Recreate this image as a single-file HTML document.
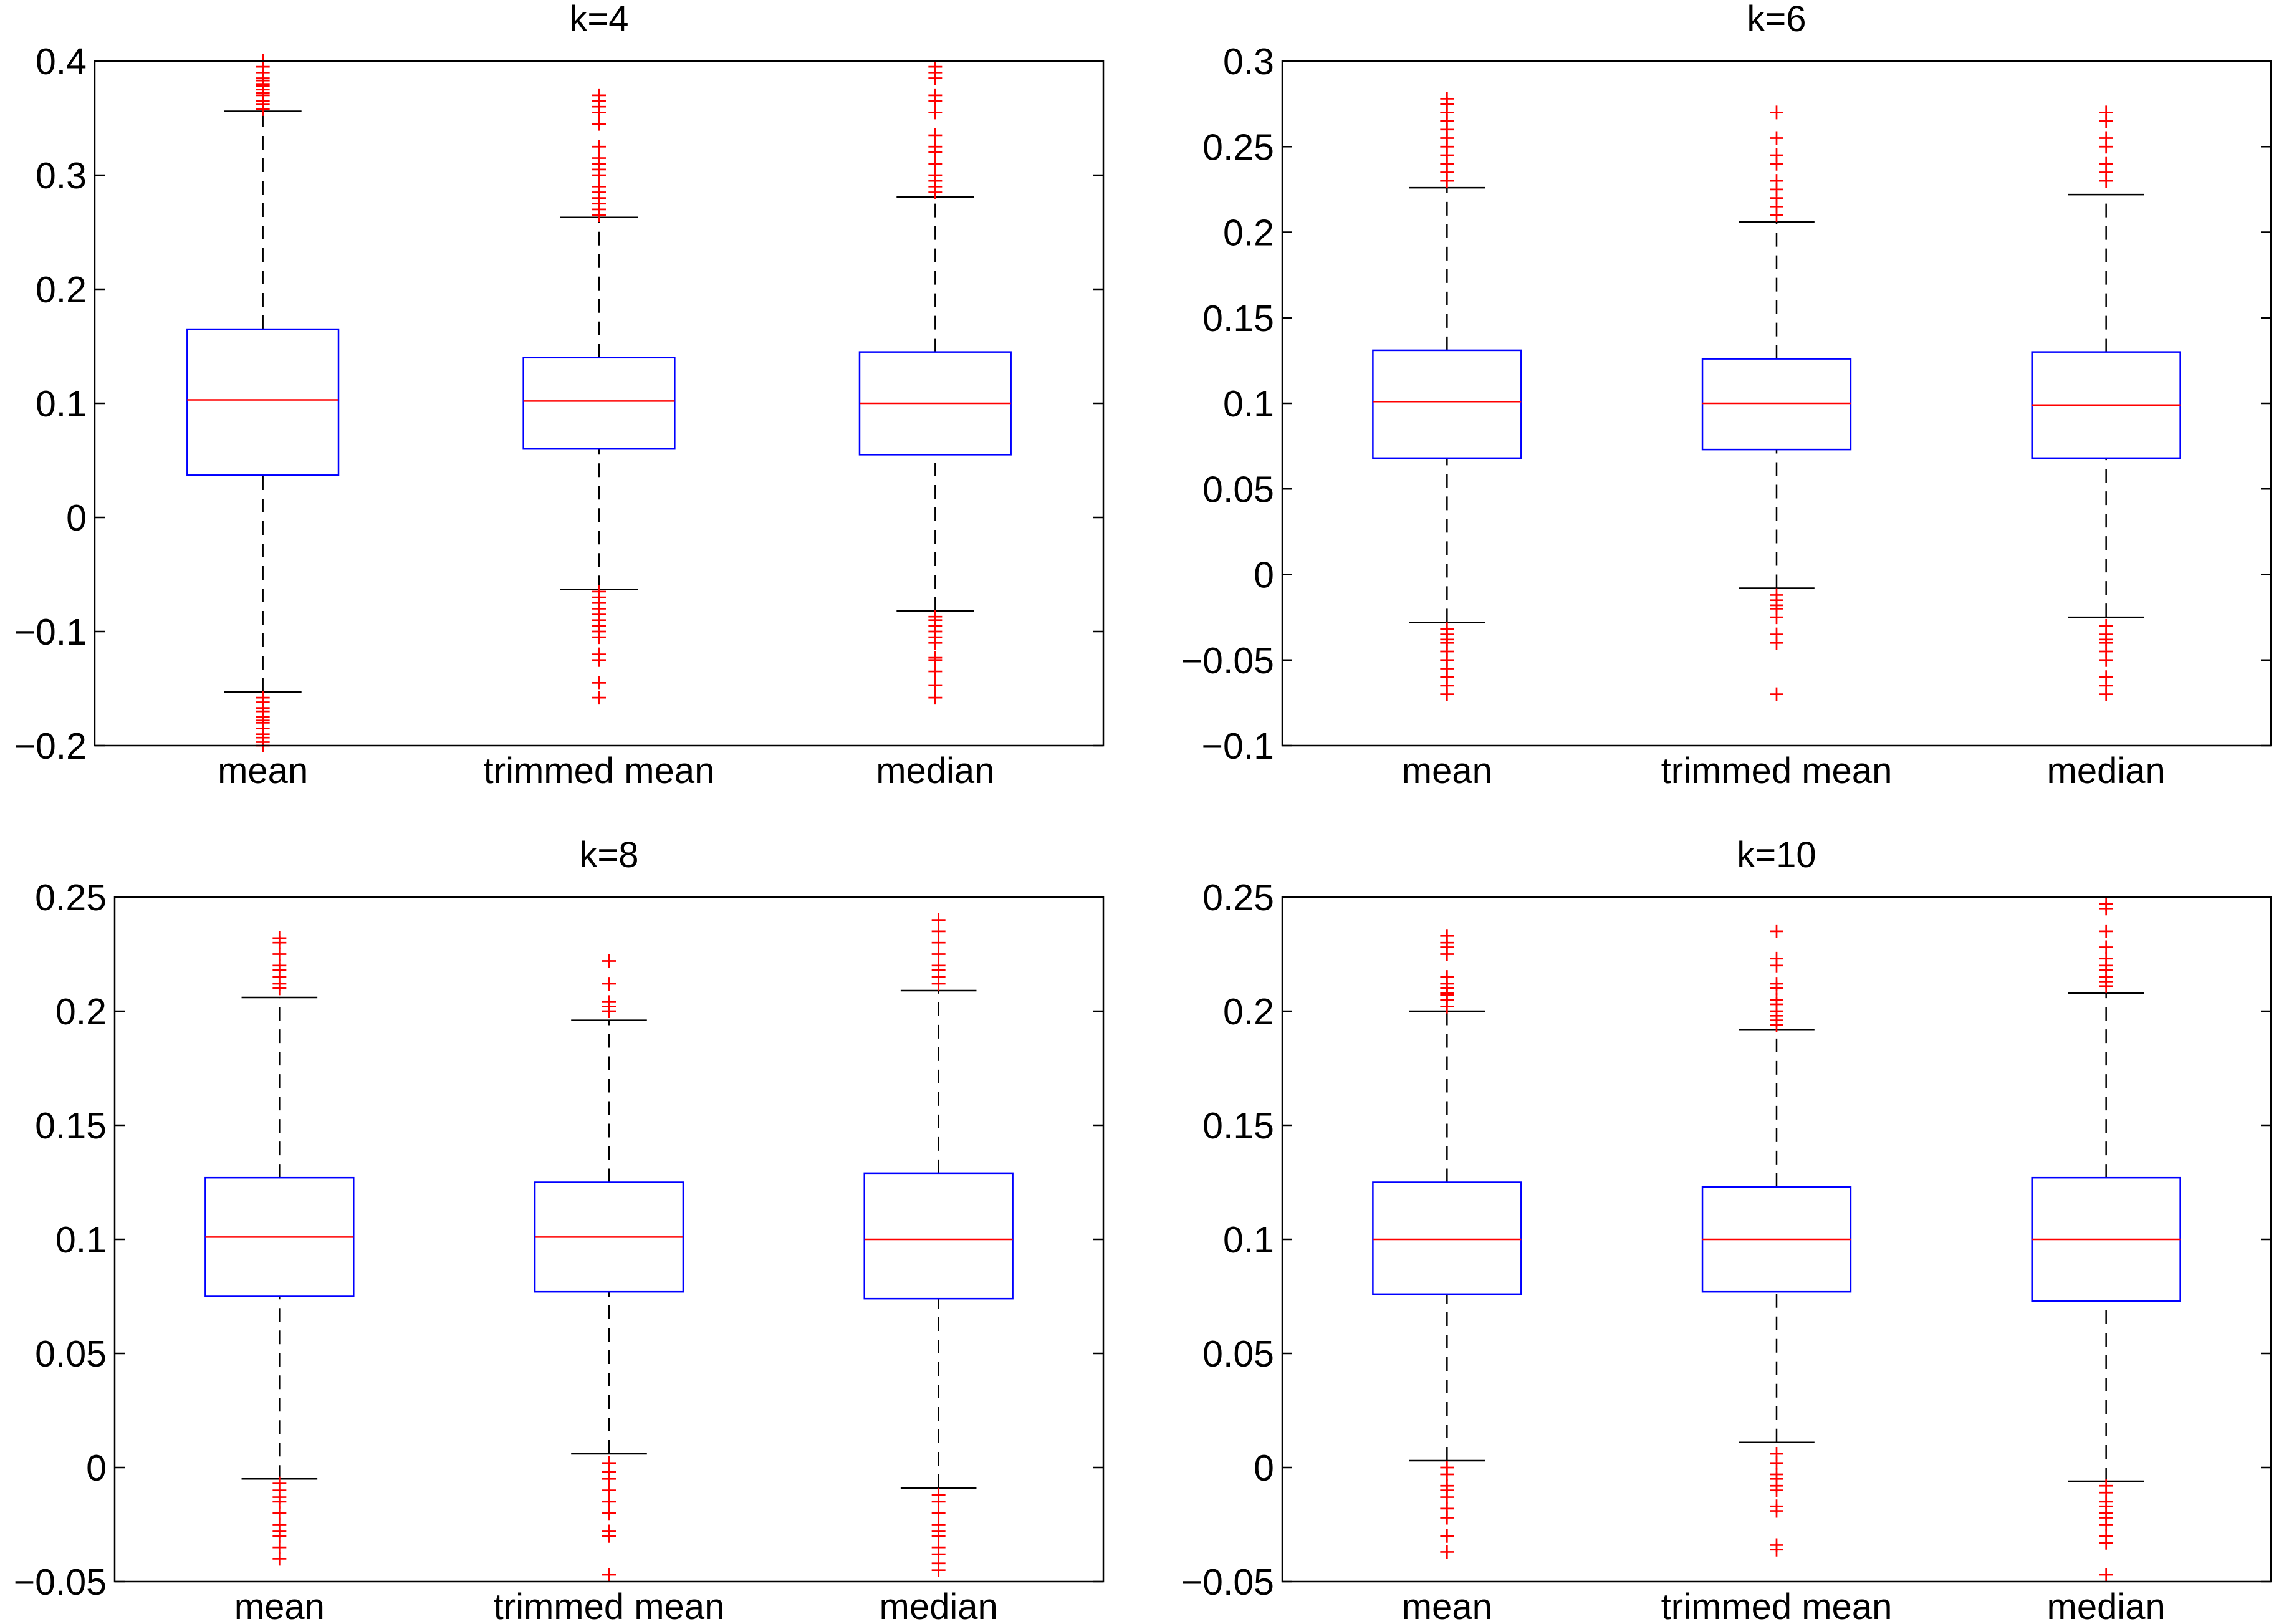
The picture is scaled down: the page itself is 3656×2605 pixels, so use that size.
<!DOCTYPE html>
<html><head><meta charset="utf-8"><style>
html,body{margin:0;padding:0;background:#fff;}
svg{display:block;font-family:"Liberation Sans",Arial,sans-serif;}
</style></head><body>
<svg id="fig" xmlns="http://www.w3.org/2000/svg" width="3656" height="2605" viewBox="0 0 3656 2605"></svg>
<script>
const categories = ["mean","trimmed mean","median"];
const panelTitles = ["k=4","k=6","k=8","k=10"];
const yTicksK4 = [-0.2,-0.1,0,0.1,0.2,0.3,0.4];
const yTickLabelsK4 = ["\u22120.2","\u22120.1","0","0.1","0.2","0.3","0.4"];
const yTicksK6 = [-0.1,-0.05,0,0.05,0.1,0.15,0.2,0.25,0.3];
const yTickLabelsK6 = ["\u22120.1","\u22120.05","0","0.05","0.1","0.15","0.2","0.25","0.3"];
const yTicksK8 = [-0.05,0,0.05,0.1,0.15,0.2,0.25];
const yTickLabelsK8 = ["\u22120.05","0","0.05","0.1","0.15","0.2","0.25"];
// per panel: [lowWhisker, q1, median, q3, highWhisker] for each category
const statsK4 = [[-0.153,0.037,0.103,0.165,0.356],[-0.063,0.060,0.102,0.140,0.263],[-0.082,0.055,0.100,0.145,0.281]];
const statsK6 = [[-0.028,0.068,0.101,0.131,0.226],[-0.008,0.073,0.100,0.126,0.206],[-0.025,0.068,0.099,0.130,0.222]];
const statsK8 = [[-0.005,0.075,0.101,0.127,0.206],[0.006,0.077,0.101,0.125,0.196],[-0.009,0.074,0.100,0.129,0.209]];
const statsK10 = [[0.003,0.076,0.100,0.125,0.200],[0.011,0.077,0.100,0.123,0.192],[-0.006,0.073,0.100,0.127,0.208]];
const outliersK4 = [
 [0.358,0.362,0.365,0.37,0.372,0.375,0.378,0.38,0.383,0.385,0.39,0.395,0.4,-0.158,-0.162,-0.167,-0.17,-0.175,-0.178,-0.18,-0.185,-0.19,-0.193,-0.197,-0.2],
 [0.265,0.27,0.275,0.28,0.285,0.29,0.30,0.305,0.31,0.315,0.325,0.345,0.355,0.36,0.365,0.37,-0.065,-0.07,-0.075,-0.08,-0.085,-0.09,-0.095,-0.1,-0.105,-0.12,-0.125,-0.145,-0.158],
 [0.285,0.29,0.295,0.30,0.31,0.32,0.325,0.335,0.355,0.365,0.37,0.385,0.39,0.395,-0.087,-0.09,-0.095,-0.1,-0.105,-0.11,-0.123,-0.125,-0.135,-0.147,-0.158]];
const outliersK6 = [
 [0.23,0.235,0.24,0.245,0.25,0.255,0.26,0.265,0.27,0.275,0.278,-0.032,-0.035,-0.038,-0.04,-0.045,-0.05,-0.055,-0.06,-0.065,-0.07],
 [0.21,0.215,0.22,0.225,0.23,0.24,0.245,0.255,0.27,-0.012,-0.015,-0.018,-0.02,-0.025,-0.035,-0.04,-0.07],
 [0.23,0.235,0.24,0.25,0.255,0.265,0.27,-0.03,-0.035,-0.038,-0.04,-0.045,-0.05,-0.06,-0.065,-0.07]];
const outliersK8 = [
 [0.21,0.212,0.215,0.218,0.22,0.225,0.23,0.232,-0.007,-0.01,-0.013,-0.015,-0.02,-0.025,-0.028,-0.03,-0.035,-0.04],
 [0.2,0.202,0.204,0.212,0.222,0.002,-0.002,-0.005,-0.01,-0.015,-0.02,-0.028,-0.03,-0.047],
 [0.212,0.215,0.218,0.22,0.225,0.23,0.235,0.24,-0.012,-0.015,-0.02,-0.025,-0.028,-0.03,-0.035,-0.038,-0.042,-0.045]];
const outliersK10 = [
 [0.202,0.205,0.207,0.208,0.21,0.212,0.215,0.225,0.228,0.23,0.233,0,-0.003,-0.008,-0.01,-0.013,-0.018,-0.022,-0.03,-0.037],
 [0.194,0.196,0.198,0.2,0.203,0.205,0.21,0.212,0.22,0.223,0.235,0.006,0.002,-0.003,-0.005,-0.008,-0.01,-0.017,-0.019,-0.034,-0.036],
 [0.211,0.213,0.215,0.218,0.22,0.223,0.228,0.235,0.245,0.247,-0.008,-0.011,-0.015,-0.017,-0.02,-0.022,-0.025,-0.03,-0.033,-0.047]];

const NS="http://www.w3.org/2000/svg";
const svg=document.getElementById('fig');
function mk(tag,attrs,parent){const e=document.createElementNS(NS,tag);for(const k in attrs)e.setAttribute(k,attrs[k]);(parent||svg).appendChild(e);return e;}

const panels=[
 {x0:152,x1:1770,y0:98,y1:1196,ymin:-0.2,ymax:0.4,ticks:yTicksK4,labels:yTickLabelsK4,stats:statsK4,out:outliersK4,title:panelTitles[0]},
 {x0:2057,x1:3643,y0:98,y1:1196,ymin:-0.1,ymax:0.3,ticks:yTicksK6,labels:yTickLabelsK6,stats:statsK6,out:outliersK6,title:panelTitles[1]},
 {x0:184,x1:1770,y0:1439,y1:2537,ymin:-0.05,ymax:0.25,ticks:yTicksK8,labels:yTickLabelsK8,stats:statsK8,out:outliersK8,title:panelTitles[2]},
 {x0:2057,x1:3643,y0:1439,y1:2537,ymin:-0.05,ymax:0.25,ticks:yTicksK8,labels:yTickLabelsK8,stats:statsK10,out:outliersK10,title:panelTitles[3]}
];

panels.forEach((p,pi)=>{
 const g=mk('g',{});
 
 
 const xs=v=>p.x0+(v-0.5)/3*(p.x1-p.x0);
 const ys=v=>p.y1-(v-p.ymin)/(p.ymax-p.ymin)*(p.y1-p.y0);
 const unit=(p.x1-p.x0)/3;
 const t=mk('text',{x:(p.x0+p.x1)/2,y:p.y0-48,'font-size':58,'text-anchor':'middle',fill:'#000'},g);
 t.textContent=p.title;
 
 
 p.ticks.forEach((tv,i)=>{
  const y=ys(tv);
  mk('line',{x1:p.x0,x2:p.x0+16,y1:y,y2:y,stroke:'#000','stroke-width':2.5},g);
  mk('line',{x1:p.x1,x2:p.x1-16,y1:y,y2:y,stroke:'#000','stroke-width':2.5},g);
  const l=mk('text',{x:p.x0-13,y:y+21,'font-size':59,'text-anchor':'end',fill:'#000'},g);
  l.textContent=p.labels[i];
  
  
 });
 categories.forEach((c,ci)=>{
  const cx=xs(ci+1), s=p.stats[ci];
  const bw=unit*0.45/2, cw=unit*0.23/2;
  const bg=mk('g',{},g);
  
  
  mk('line',{x1:cx,x2:cx,y1:ys(s[0]),y2:ys(s[1]),stroke:'#000','stroke-width':2.5,'stroke-dasharray':'22,14'},bg);
  mk('line',{x1:cx,x2:cx,y1:ys(s[3]),y2:ys(s[4]),stroke:'#000','stroke-width':2.5,'stroke-dasharray':'22,14'},bg);
  mk('line',{x1:cx-cw,x2:cx+cw,y1:ys(s[0]),y2:ys(s[0]),stroke:'#000','stroke-width':2.5},bg);
  mk('line',{x1:cx-cw,x2:cx+cw,y1:ys(s[4]),y2:ys(s[4]),stroke:'#000','stroke-width':2.5},bg);
  mk('rect',{x:cx-bw,y:ys(s[3]),width:2*bw,height:ys(s[1])-ys(s[3]),fill:'none',stroke:'#0000ff','stroke-width':2.5},bg);
  mk('line',{x1:cx-bw,x2:cx+bw,y1:ys(s[2]),y2:ys(s[2]),stroke:'#ff0000','stroke-width':2.5},bg);
  p.out[ci].forEach(v=>{
   const y=ys(v);
   const m=mk('path',{d:`M${cx-11},${y}H${cx+11}M${cx},${y-11}V${y+11}`,stroke:'#ff0000','stroke-width':2.7,fill:'none'},bg);
   
   
  });
  const xl=mk('text',{x:cx,y:p.y1+60,'font-size':58,'text-anchor':'middle',fill:'#000'},g);
  xl.textContent=c;
  
  
 });
 const fr=mk('rect',{x:p.x0,y:p.y0,width:p.x1-p.x0,height:p.y1-p.y0,fill:'none',stroke:'#000','stroke-width':2.5},g);
 
 
});
</script>
</body></html>
